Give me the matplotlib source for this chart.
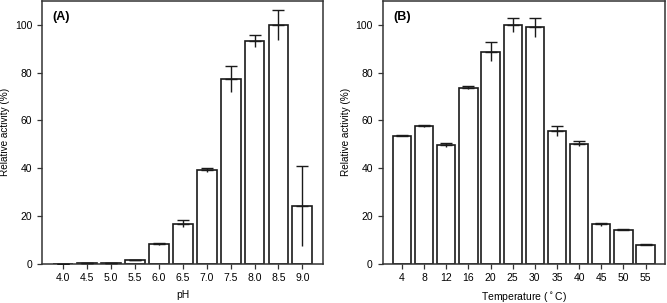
import numpy as np
import matplotlib
matplotlib.use("Agg")
import matplotlib.pyplot as plt

plt.rcParams['font.family'] = ['Liberation Sans', 'DejaVu Sans']

ph_labels = ["4.0", "4.5", "5.0", "5.5", "6.0", "6.5", "7.0", "7.5", "8.0", "8.5", "9.0"]
ph_values = [0.0, 0.2, 0.3, 1.4, 8.2, 16.8, 39.2, 77.5, 93.4, 100.0, 24.2]
ph_errors = [0.0, 0.0, 0.0, 0.0, 0.4, 1.4, 0.7, 5.4, 2.5, 6.3, 16.7]

temp_labels = ["4", "8", "12", "16", "20", "25", "30", "35", "40", "45", "50", "55"]
temp_values = [53.7, 57.7, 49.7, 73.8, 88.8, 100.0, 99.0, 55.5, 50.2, 16.4, 14.2, 7.9]
temp_errors = [0.2, 0.4, 0.8, 0.7, 3.9, 3.1, 3.8, 2.2, 1.0, 0.7, 0.2, 0.3]


def draw_bars(ax, labels, values, errors, xlabel, tag):
    x = np.arange(len(labels))
    values = np.array(values)
    errors = np.array(errors)
    ax.bar(x, values, width=0.83, color="white", edgecolor="#1a1a1a", linewidth=1.2, zorder=2)
    # upper half with cap, lower half without cap
    ax.errorbar(x, values, yerr=[np.zeros_like(errors), errors], fmt="none",
                ecolor="#1a1a1a", elinewidth=1.0, capsize=4, capthick=1.0, zorder=3)
    ax.errorbar(x, values, yerr=[errors, np.zeros_like(errors)], fmt="none",
                ecolor="#1a1a1a", elinewidth=1.0, capsize=0, zorder=3)
    ax.set_xlim(-0.88, len(labels) - 1 + 0.88)
    ax.set_ylim(0, 110)
    ax.set_xticks(x)
    ax.set_xticklabels(labels)
    ax.set_yticks([0, 20, 40, 60, 80, 100])
    ax.tick_params(axis="both", labelsize=7.5, length=3.5, width=0.9, color="#333333", pad=3.5)
    ax.set_xlabel(xlabel, fontsize=7.5, labelpad=4.5)
    ax.set_ylabel("Relative activity (%)", fontsize=7.2, labelpad=3.5)
    for s in ax.spines.values():
        s.set_linewidth(1.1)
        s.set_color("#333333")
    ax.text(0.037, 0.94, tag, transform=ax.transAxes, fontsize=9, fontweight="bold",
            va="center", ha="left")


fig = plt.figure(figsize=(6.67, 3.03), dpi=100)
ax1 = fig.add_axes([0.063, 0.130, 0.422, 0.866])
ax2 = fig.add_axes([0.5735, 0.130, 0.4235, 0.866])

draw_bars(ax1, ph_labels, ph_values, ph_errors, "pH", "(A)")
draw_bars(ax2, temp_labels, temp_values, temp_errors, "Temperature ($^\\circ$C)", "(B)")

fig.savefig("out.png", dpi=100)
